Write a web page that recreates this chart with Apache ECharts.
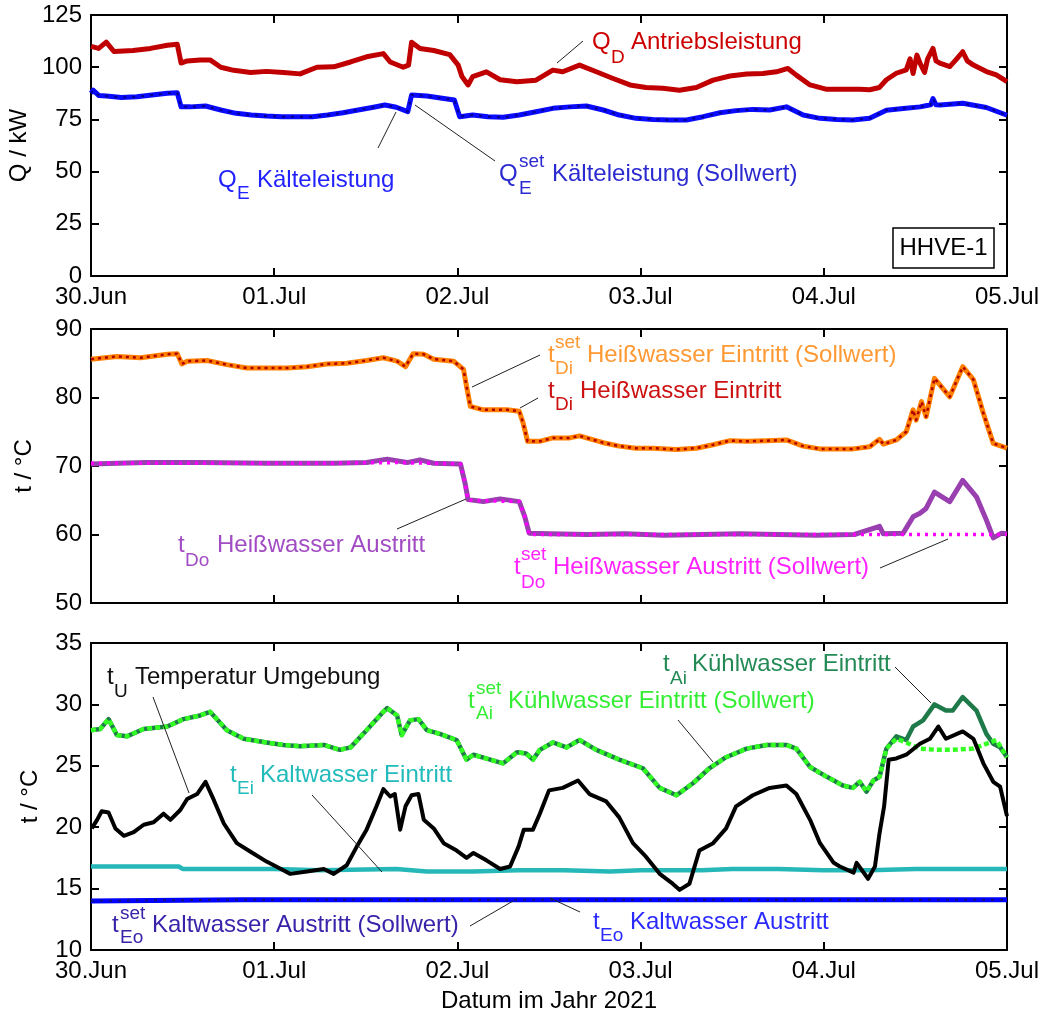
<!DOCTYPE html>
<html>
<head>
<meta charset="utf-8">
<script src="https://cdn.jsdelivr.net/npm/echarts@6/dist/echarts.min.js"></script>
<style>html,body{margin:0;padding:0;background:#fff;}#c{width:1045px;height:1017px;}</style>
</head>
<body>
<div id="c"></div>
<script>
// ---------- tick labels ----------
const dayLabels = ['30.Jun', '01.Jul', '02.Jul', '03.Jul', '04.Jul', '05.Jul'];

// ---------- panel 1: Q / kW (hours since 30.Jun 00:00) ----------
const qdHours = [0,1,2,3,5.5,7.8,10,11.3,11.8,12.6,14.3,15.6,17,18.7,20.9,23,25.2,27.4,29.6,31.8,34,36.1,38.3,39.2,40.9,41.6,42,43.1,44.9,47,48.1,48.6,49.4,50,51.8,53.6,55.8,58.3,60.5,61.8,64,66.2,68.4,70.6,72.7,74.9,77.1,79.3,81.5,83.7,85.9,88,89.8,91.3,92.4,94.2,96.4,98.5,100.7,102,103.3,104.2,105.5,106.8,107.3,107.7,108.2,108.6,109.2,109.6,110.3,110.7,111.2,112.5,113.3,114.2,114.8,115.6,117.3,118.6,120];
const qdValues = [110,109,112,107.5,108,109,110.5,111,102,103,103.5,103.5,100,98.5,97.5,98,97.5,96.8,100,100.2,102.5,105,106.5,102.5,100,101,112,109,108,106,101,95.5,91.5,95.5,97.8,94,93,93.8,98.6,97.8,101,97.8,94.6,91.5,90.3,89.9,89,90.3,93.8,95.8,96.7,97,97.8,99.4,96.2,91.5,89.4,89.4,89.4,89.2,90.3,94,97.1,98.7,104,97,105.8,101.9,97.5,104,109,103,101.9,100.3,103.5,107.4,103,101,97.9,96.3,93.1];

const qeHours = [0,0.3,1,2,4,6,8,10,11.3,11.8,13,15,17,19,21,23,25,27,29,31,33,35,37,38.5,40,41.5,42,44,46,47.6,48.3,50,52,54,56.1,58.3,60.5,62.7,64.9,67.1,69.2,71.4,73.6,75.8,78,80.2,82.4,84.5,86.7,88.9,91.1,93.3,95.5,97.7,99.8,102,104.2,106.4,108.6,110,110.3,110.7,111.2,114.2,117.3,120];
const qeValues = [87.5,89,86.5,86.2,85.5,85.8,86.7,87.5,87.8,81,81,81.4,79.5,77.9,77.1,76.6,76.3,76.3,76.3,77.1,78.2,79.5,80.8,81.9,80.8,78.7,86.7,86.2,85.1,84.3,76.3,77.1,76.3,76,77.1,78.7,80.3,81,81.4,79.5,77.1,75.5,75,74.7,74.7,76.3,78.2,79.2,79.8,79.5,81,77.1,75.5,75,74.7,75.5,79.4,80.2,81,82,85,82,81.9,82.7,80.7,77];
// the set value of the cooling capacity coincides with the measured one
const qeSetHours = qeHours;
const qeSetValues = qeValues;

// ---------- panel 2: hot water temperatures ----------
const tdiHours = [0,3.4,6.5,10,11.3,11.9,12.6,15.2,17.8,20.4,23,25.7,28.3,30.9,33.5,36.1,38.3,40.1,41.2,42.2,43.6,44.9,47.5,48.8,49.2,49.7,51.4,54.5,56.1,56.6,57.2,58.8,60.5,62.7,64,67.1,69.2,71.4,73.6,76.7,79.3,81.5,83.7,85.9,88.5,91.1,93.3,95.5,97.7,99.8,102,103.3,103.8,105.5,106.8,107.7,108.1,108.8,109.4,110.5,112.5,114.2,115.6,116.9,118.2,120];
const tdiValues = [85.6,86,85.8,86.3,86.4,84.9,85.3,85.4,84.8,84.3,84.3,84.3,84.5,84.9,85,85.4,85.8,85.3,84.5,86.4,86.3,85.6,85.3,84.1,81.6,78.7,78.2,78.2,78,76.3,73.6,73.6,74.1,74.1,74.4,73.4,72.9,72.6,72.6,72.4,72.6,73.1,73.7,73.6,73.7,73.8,72.9,72.5,72.5,72.5,72.8,73.9,73.2,73.8,75,78.2,76.7,79.4,77.2,82.8,80.1,84.5,82.6,77.7,73.3,72.6];
const tdiSetHours = tdiHours;
const tdiSetValues = tdiValues;

const tdoHours = [0,3.5,7.3,14.3,23,31.8,36.1,38.8,41.4,43.1,44.9,48.4,49,49.4,51.4,53.6,56.1,56.8,57.4,60,65,70,75,80,85,90,95,100,103.3,103.8,106.4,107.7,108.6,109.4,110.5,112.5,114.2,116,117.3,118.2,119.3,120];
const tdoValues = [70.3,70.4,70.5,70.5,70.4,70.4,70.5,71,70.5,70.9,70.4,70.3,67.5,65.1,64.8,65.2,64.8,62.7,60.2,60.1,60,60.1,59.9,60,60.1,60,59.9,60,61.2,60.1,60.2,62.6,63.1,63.8,66.2,64.8,67.9,65.5,62.1,59.5,60.2,60.1];
const tdoSetHours = [0,10,20,30,40,48.4,49,49.4,56.1,56.8,57.4,70,90,106,120];
const tdoSetValues = [70.4,70.4,70.4,70.4,70.5,70.3,67.5,65,64.8,62.7,60,60,60,60,60];

// ---------- panel 3: cooling water, chilled water, ambient ----------
const tuHours = [0.1,0.8,1.4,2.3,3.2,4.3,5.6,6.9,8.2,9.5,10.4,11.7,12.6,13.9,15,16.1,17.4,19.1,20.9,23,25.2,26.1,28.3,30.5,31.8,33.5,34.8,36.1,37.4,38.3,39.2,39.8,40.5,41.2,42,42.9,43.6,44.9,46.2,47.9,49.2,50.1,51.8,53.6,54.9,56,56.7,57.9,58.8,60,61.8,63.8,65.3,67.5,69.2,71,72.7,74.5,76.2,77.1,78.4,79.7,81.5,83.2,84.5,86.7,88.9,91.1,92.4,94.2,95.5,97.3,98.1,99.9,100.3,101.8,102.7,103.3,103.9,104.5,105.5,106.8,108.6,109.9,111,112,114.2,115.6,116.9,118.2,119.1,120];
const tuValues = [19.9,20.6,21.3,21.2,19.9,19.3,19.6,20.2,20.4,21.1,20.6,21.4,22.3,22.7,23.7,22.2,20.3,18.7,18,17.2,16.5,16.2,16.4,16.6,16.2,16.9,18.4,19.8,21.7,23.1,22.5,22.7,19.8,21.7,22.6,22.7,20.6,19.9,18.7,18.1,17.5,17.9,17.3,16.6,16.8,18.4,19.8,19.8,21.1,23,23.2,23.8,22.7,22.1,20.8,18.7,17.6,16.2,15.4,14.9,15.4,18.1,18.7,19.9,21.7,22.6,23.2,23.4,22.7,20.6,18.7,17.1,16.8,16.3,17.1,15.8,16.8,19.5,21.7,25.5,25.6,25.9,26.8,27.2,28.2,27.2,27.8,27.2,25.2,23.7,23.3,20.9];

const taiSetHours = [0,1.2,2.3,3.4,4.7,6.9,10,12.1,14.3,15.6,17.8,20,23,25.2,27.4,30.5,32.6,34,36.1,38.3,38.8,40.1,40.7,41.8,42.9,44,45.7,47.9,49.2,50.1,52.3,54,55.8,57,57.9,58.8,60.5,62.3,64,66.2,69.2,72.3,74.5,76.7,78.9,81,83.2,85.9,88.5,91.1,92.4,94.2,96.4,98.5,99.8,100.7,101.6,102.5,103.3,104.2,105.5,106.8,108.6,110.8,112.9,115.6,116.9,118.6,120];
const taiSetValues = [27.9,28,28.8,27.5,27.4,28,28.2,28.8,29.1,29.4,27.9,27.2,26.9,26.7,26.6,26.7,26.3,26.5,27.9,29.4,29.7,29.1,27.5,28.7,28.8,27.9,27.6,27.1,25.5,25.9,25.5,25.2,26.1,26,25.5,26.3,26.9,26.5,27.1,26.3,25.5,24.8,23.2,22.6,23.6,24.8,25.7,26.4,26.7,26.7,26.4,24.9,24.1,23.4,23.2,23.7,22.9,23.8,24.1,26.4,27.2,26.9,26.4,26.3,26.3,26.4,26.7,27.1,25.7];

const taiHours = [0,1.2,2.3,3.4,4.7,6.9,10,12.1,14.3,15.6,17.8,20,23,25.2,27.4,30.5,32.6,34,36.1,38.3,38.8,40.1,40.7,41.8,42.9,44,45.7,47.9,49.2,50.1,52.3,54,55.8,57,57.9,58.8,60.5,62.3,64,66.2,69.2,72.3,74.5,76.7,78.9,81,83.2,85.9,88.5,91.1,92.4,94.2,96.4,98.5,99.8,100.7,101.6,102.5,103.3,104.2,105.5,106.8,107.7,109,110.5,112,112.9,114.2,116,117.3,118.2,119.1,120];
const taiValues = [27.9,28,28.8,27.5,27.4,28,28.2,28.8,29.1,29.4,27.9,27.2,26.9,26.7,26.6,26.7,26.3,26.5,27.9,29.4,29.7,29.1,27.5,28.7,28.8,27.9,27.6,27.1,25.5,25.9,25.5,25.2,26.1,26,25.5,26.3,26.9,26.5,27.1,26.3,25.5,24.8,23.2,22.6,23.6,24.8,25.7,26.4,26.7,26.7,26.4,24.9,24.1,23.4,23.2,23.7,22.9,23.8,24.1,26.4,27.4,27.1,28.2,28.7,30,29.5,29.5,30.6,29.5,27.6,26.8,26.5,25.7];

const teiHours = [0,6,11.5,12,20,24,30,40,44,50,56,62,68,72,80,84,90,96,102,108,114,120];
const teiValues = [16.8,16.8,16.8,16.6,16.6,16.6,16.5,16.6,16.4,16.4,16.5,16.5,16.4,16.5,16.5,16.6,16.6,16.5,16.5,16.6,16.6,16.6];

const teoHours = [0,20,40,60,80,100,120];
const teoValues = [14.0,14.1,14.1,14.1,14.1,14.1,14.1];
const teoSetHours = teoHours;
const teoSetValues = teoValues;

// ---------- build ----------
const FONT = '"Liberation Sans", Arial, sans-serif';
const pairs = (h, v) => h.map((x, i) => [x, v[i]]);

const panels = [
  {top: 15, height: 261, min: 0, max: 125, interval: 25, name: 'Q / kW', nameGap: 60, labels: true},
  {top: 329, height: 274, min: 50, max: 90, interval: 10, name: 't / °C', nameGap: 55, labels: false},
  {top: 643, height: 307, min: 10, max: 35, interval: 5, name: 't / °C', nameGap: 49, labels: true}
];

const grid = [], xAxis = [], yAxis = [];
const axLine = {show: true, onZero: false, lineStyle: {color: '#000', width: 2}};
const axTick = {show: true, inside: true, length: 8, lineStyle: {color: '#000', width: 2}};
panels.forEach((p, i) => {
  grid.push({left: 91, width: 916, top: p.top, height: p.height, outerBoundsMode: 'none', containLabel: false});
  const xb = {type: 'value', gridIndex: i, min: 0, max: 120, interval: 24, position: 'bottom',
    axisLine: axLine, axisTick: axTick, splitLine: {show: false},
    axisLabel: {show: p.labels, margin: 9, color: '#000', fontSize: 24, fontFamily: FONT,
      formatter: v => dayLabels[Math.round(v / 24)]}};
  if (i === 2) {
    xb.name = 'Datum im Jahr 2021';
    xb.nameLocation = 'middle';
    xb.nameGap = 39;
    xb.nameTextStyle = {color: '#000', fontSize: 24, fontFamily: FONT};
  }
  xAxis.push(xb);
  xAxis.push({type: 'value', gridIndex: i, min: 0, max: 120, interval: 24, position: 'top',
    axisLine: axLine, axisTick: axTick, splitLine: {show: false}, axisLabel: {show: false}});
  yAxis.push({type: 'value', gridIndex: i, min: p.min, max: p.max, interval: p.interval, position: 'left',
    axisLine: axLine, axisTick: axTick, splitLine: {show: false},
    axisLabel: {margin: 9, color: '#000', fontSize: 24, fontFamily: FONT},
    name: p.name, nameLocation: 'middle', nameRotate: 90, nameGap: p.nameGap,
    nameTextStyle: {color: '#000', fontSize: 24, fontFamily: FONT}});
  yAxis.push({type: 'value', gridIndex: i, min: p.min, max: p.max, interval: p.interval, position: 'right',
    axisLine: axLine, axisTick: axTick, splitLine: {show: false}, axisLabel: {show: false}});
});

function line(panel, h, v, color, width, type, z) {
  return {type: 'line', xAxisIndex: panel * 2, yAxisIndex: panel * 2, data: pairs(h, v),
    showSymbol: false, symbol: 'none', animation: false, z: z || 2,
    lineStyle: {color: color, width: width, type: type || 'solid', cap: 'butt', join: 'round'}};
}

const series = [
  line(0, qdHours, qdValues, '#c00000', 5),
  line(0, qeHours, qeValues, '#0a0aff', 5),
  line(0, qeSetHours, qeSetValues, '#00008c', 2, [3, 6], 3),
  line(1, tdiSetHours, tdiSetValues, '#ff8000', 5),
  line(1, tdiHours, tdiValues, '#b00000', 2.5, [3, 4], 3),
  line(1, tdoHours, tdoValues, '#9a3fb0', 5),
  line(1, tdoSetHours, tdoSetValues, '#ff00ff', 3.5, [3, 5], 3),
  line(2, teiHours, teiValues, '#26b8b8', 4.5),
  line(2, taiHours, taiValues, '#1f7a4a', 4.5),
  line(2, taiSetHours, taiSetValues, '#33ff22', 4.5, [5, 3], 3),
  line(2, tuHours, tuValues, '#000000', 4, 'solid', 4),
  line(2, teoHours, teoValues, '#0000ff', 5),
  line(2, teoSetHours, teoSetValues, '#14147a', 2, [3, 6], 3)
];

// ---------- annotations (text + leader lines) ----------
const graphic = [];
function txt(s, x, y, size, color) {
  graphic.push({type: 'text', z: 100, style: {text: s, x: x, y: y, fill: color,
    font: size + 'px ' + FONT, align: 'left', verticalAlign: 'middle'}});
}
function ann(color, main, x, y, sup, sub, xs, ysup, ysub, rest, xr) {
  txt(main, x, y, 24, color);
  if (sup) txt(sup, xs, ysup, 19, color);
  if (sub) txt(sub, xs, ysub, 19, color);
  txt(rest, xr, y, 24, color);
}
function lead(x1, y1, x2, y2) {
  graphic.push({type: 'line', z: 100, shape: {x1: x1, y1: y1, x2: x2, y2: y2},
    style: {stroke: '#222', lineWidth: 1}});
}
ann('#cc0000', 'Q', 592, 42, null, 'D', 611, 0, 58, 'Antriebsleistung', 631);
ann('#2222ff', 'Q', 218, 180, null, 'E', 237, 0, 194, 'Kälteleistung', 257);
ann('#2a2ad0', 'Q', 499, 174, 'set', 'E', 519, 162, 189, 'Kälteleistung (Sollwert)', 552);
ann('#ff9933', 't', 548, 355, 'set', 'Di', 555, 343, 369, 'Heißwasser Eintritt (Sollwert)', 587);
ann('#cc1111', 't', 548, 391, null, 'Di', 555, 0, 405, 'Heißwasser Eintritt', 580);
ann('#a24cc4', 't', 178, 545, null, 'Do', 185, 0, 561, 'Heißwasser Austritt', 217);
ann('#ff22ff', 't', 514, 567, 'set', 'Do', 521, 555, 583, 'Heißwasser Austritt (Sollwert)', 553);
ann('#111111', 't', 107, 677, null, 'U', 114, 0, 692, 'Temperatur Umgebung', 135);
ann('#33ee33', 't', 468, 701, 'set', 'Ai', 476, 689, 714, 'Kühlwasser Eintritt (Sollwert)', 508);
ann('#248a55', 't', 663, 664, null, 'Ai', 670, 0, 679, 'Kühlwasser Eintritt', 692);
ann('#22bbbb', 't', 230, 775, null, 'Ei', 237, 0, 789, 'Kaltwasser Eintritt', 260);
ann('#3a22aa', 't', 112, 925, 'set', 'Eo', 120, 914, 938, 'Kaltwasser Austritt (Sollwert)', 152);
ann('#2a2aff', 't', 593, 922, null, 'Eo', 600, 0, 936, 'Kaltwasser Austritt', 630);

lead(557, 63, 583, 41);
lead(378, 148, 396, 112);
lead(495, 161, 415, 105);
lead(472, 387, 540, 355);
lead(520, 408, 538, 398);
lead(397, 529, 466, 499);
lead(880, 568, 948, 539);
lead(153, 697, 189, 793);
lead(678, 720, 713, 762);
lead(895, 667, 931, 703);
lead(312, 795, 382, 872);
lead(470, 926, 513, 901);
lead(580, 912, 550, 898);

graphic.push({type: 'rect', z: 100, shape: {x: 893, y: 228, width: 101, height: 40},
  style: {fill: '#fff', stroke: '#000', lineWidth: 1.5}});
graphic.push({type: 'text', z: 101, style: {text: 'HHVE-1', x: 943.5, y: 248, fill: '#000',
  font: '24px ' + FONT, align: 'center', verticalAlign: 'middle'}});

const chart = echarts.init(document.getElementById('c'), null, {renderer: 'canvas'});
chart.setOption({
  animation: false,
  backgroundColor: '#fff',
  grid: grid, xAxis: xAxis, yAxis: yAxis, series: series, graphic: graphic
});
</script>
</body>
</html>
